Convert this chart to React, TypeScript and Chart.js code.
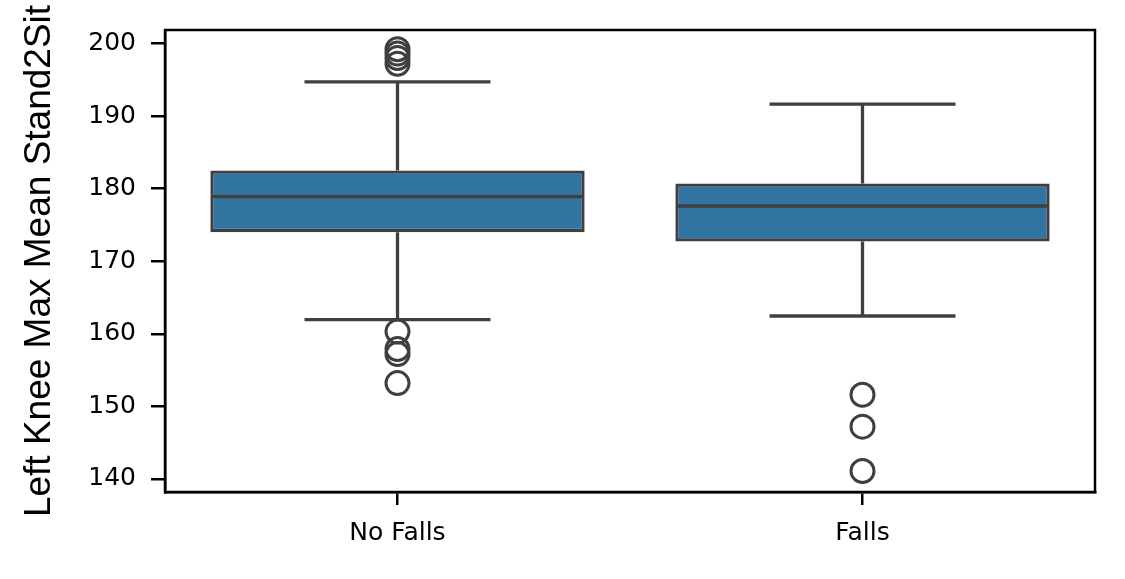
import React, { useEffect, useRef } from "react";
import { Chart, registerables } from "chart.js";

Chart.register(...registerables);

// ---- Data ----
const categories = ["No Falls", "Falls"];
const q1 = [174.0, 172.7];
const medians = [178.9, 177.6];
const q3 = [182.5, 180.7];
const whiskerLow = [161.95, 162.45];
const whiskerHigh = [194.7, 191.65];
const noFallsOutliers = [199.2, 198.6, 198.0, 197.2, 160.3, 157.9, 157.2, 153.2];
const fallsOutliers = [151.6, 147.2, 141.1];
const yTicks = [140, 150, 160, 170, 180, 190, 200];
const yMin = 138.2;
const yMax = 201.85;
const yTitle = "Left Knee Max Mean Stand2Sit";

const outliers = [noFallsOutliers, fallsOutliers];

const BOX_FILL = "#3274a1";
const LINE = "#3f3f3f";

const framePlugin = {
  id: "frame",
  afterDatasetsDraw(chart: any) {
    const { ctx, chartArea: a } = chart;
    ctx.save();
    ctx.strokeStyle = "#000";
    ctx.lineWidth = 2.5;
    ctx.strokeRect(a.left, a.top, a.right - a.left, a.bottom - a.top);
    ctx.restore();
  },
};

export default function App() {
  const ref = useRef<HTMLCanvasElement | null>(null);

  useEffect(() => {
    if (!ref.current) return;

    const boxData = categories.map((_, i) => [q1[i], q3[i]]);
    const medianPts: any[] = [];
    const whiskerPts: any[] = [];
    const capPts: any[] = [];
    const outlierPts: any[] = [];
    categories.forEach((_, i) => {
      medianPts.push({ x: i - 0.4, y: medians[i] }, { x: i + 0.4, y: medians[i] }, { x: i, y: null });
      whiskerPts.push(
        { x: i, y: q3[i] }, { x: i, y: whiskerHigh[i] }, { x: i, y: null },
        { x: i, y: q1[i] }, { x: i, y: whiskerLow[i] }, { x: i, y: null }
      );
      capPts.push(
        { x: i - 0.2, y: whiskerHigh[i] }, { x: i + 0.2, y: whiskerHigh[i] }, { x: i, y: null },
        { x: i - 0.2, y: whiskerLow[i] }, { x: i + 0.2, y: whiskerLow[i] }, { x: i, y: null }
      );
      outliers[i].forEach((v) => outlierPts.push({ x: i, y: v }));
    });

    const lineCommon = {
      type: "line" as const,
      xAxisID: "xl",
      yAxisID: "y",
      borderColor: LINE,
      borderWidth: 3.3,
      pointRadius: 0,
      spanGaps: false,
      fill: false,
      tension: 0,
      borderCapStyle: "butt" as const,
    };

    const chart = new Chart(ref.current, {
      type: "bar",
      data: {
        labels: categories,
        datasets: [
          {
            type: "bar",
            label: "box",
            data: boxData as any,
            xAxisID: "x",
            yAxisID: "y",
            backgroundColor: BOX_FILL,
            borderColor: LINE,
            borderWidth: 3.3,
            borderSkipped: false,
            grouped: false,
            barPercentage: 0.805,
            categoryPercentage: 1,
            order: 4,
          },
          { ...lineCommon, label: "whiskers", data: whiskerPts, order: 3 },
          { ...lineCommon, label: "caps", data: capPts, order: 2 },
          { ...lineCommon, label: "medians", data: medianPts, order: 1 },
          {
            type: "scatter",
            label: "outliers",
            data: outlierPts,
            xAxisID: "xl",
            yAxisID: "y",
            pointStyle: "circle",
            pointRadius: 11.5,
            pointBorderWidth: 3,
            pointBorderColor: LINE,
            pointBackgroundColor: "rgba(0,0,0,0)",
            showLine: false,
            order: 0,
          } as any,
        ],
      },
      options: {
        responsive: false,
        animation: false,
        devicePixelRatio: 1,
        layout: { padding: { left: 0, top: 30, right: 30, bottom: 0 } },
        plugins: {
          legend: { display: false },
          tooltip: { enabled: false },
        },
        scales: {
          x: {
            type: "category",
            position: "bottom",
            offset: true,
            afterFit: (s: any) => {
              s.height = 87;
            },
            grid: {
              display: true,
              drawOnChartArea: false,
              drawTicks: true,
              tickLength: 13,
              offset: false,
              color: "#000",
              lineWidth: 2.5,
            },
            border: { display: true, color: "#000", width: 2.5 },
            ticks: {
              color: "#000",
              padding: 13,
              maxRotation: 0,
              font: { family: "DejaVu Sans", size: 25 },
            },
          },
          xl: {
            type: "linear",
            display: false,
            offset: false,
            min: -0.5,
            max: 1.5,
            grid: { offset: false },
          },
          y: {
            type: "linear",
            position: "left",
            min: yMin,
            max: yMax,
            afterFit: (s: any) => {
              s.width = 165;
            },
            afterBuildTicks: (s: any) => {
              s.ticks = yTicks.map((v) => ({ value: v }));
            },
            grid: {
              display: true,
              drawOnChartArea: false,
              drawTicks: true,
              tickLength: 14,
              color: "#000",
              lineWidth: 2.5,
            },
            border: { display: true, color: "#000", width: 2.5 },
            ticks: {
              color: "#000",
              padding: 15,
              font: { family: "DejaVu Sans", size: 25 },
              callback: (v: any) => String(v),
            },
            title: {
              display: true,
              text: yTitle,
              color: "#000",
              font: { family: "Liberation Sans", size: 37 },
              padding: { top: 18, bottom: 0 },
            },
          },
        },
      },
      plugins: [framePlugin],
    });

    return () => chart.destroy();
  }, []);

  return (
    <div style={{ position: "fixed", left: 0, top: 0, width: 1125, height: 579, background: "#fff" }}>
      <canvas ref={ref} width={1125} height={579} style={{ display: "block" }} />
    </div>
  );
}
